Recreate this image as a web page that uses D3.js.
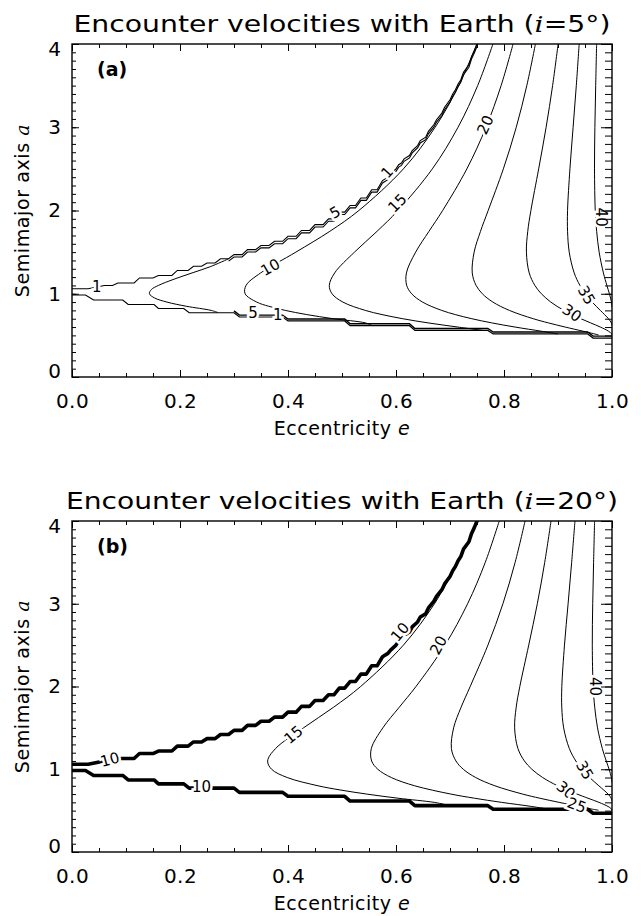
<!DOCTYPE html>
<html>
<head>
<meta charset="utf-8">
<script src="https://cdn.jsdelivr.net/npm/d3@7"></script>
<style>
  body { margin: 0; background: #fff; }
  svg text { font-family: "DejaVu Sans", "Liberation Sans", sans-serif; fill: #000; }
</style>
</head>
<body>
<svg id="chart" width="641" height="916"></svg>
<script>
// ---- axis ticks ----
const eTicks = [0, 0.2, 0.4, 0.6, 0.8, 1.0];
const eTickLabels = ["0.0", "0.2", "0.4", "0.6", "0.8", "1.0"];
const aTicks = [0, 1, 2, 3, 4];
const aTickLabels = ["0", "1", "2", "3", "4"];

// ---- edges of the crossing region (stair-stepped, as gridded) [e, a] ----
const upperEdge = [[0,1.06],[0.03,1.06],[0.06,1.10],[0.075,1.10],[0.085,1.13],[0.115,1.13],[0.125,1.19],[0.15,1.19],
  [0.16,1.22],[0.185,1.22],[0.195,1.28],[0.215,1.28],[0.225,1.33],[0.24,1.33],[0.25,1.37],[0.265,1.37],[0.275,1.42],
  [0.29,1.42],[0.30,1.47],[0.315,1.47],[0.325,1.53],[0.34,1.53],[0.35,1.58],[0.365,1.58],[0.375,1.63],[0.39,1.63],
  [0.40,1.69],[0.415,1.69],[0.425,1.76],[0.44,1.76],[0.45,1.83],[0.465,1.83],[0.475,1.90],[0.485,1.90],[0.495,1.98],
  [0.505,1.98],[0.515,2.06],[0.525,2.06],[0.535,2.15],[0.545,2.15],[0.555,2.25],[0.565,2.25],[0.575,2.36],[0.585,2.40],
  [0.59,2.44],[0.6,2.50],[0.605,2.55],[0.61,2.57],[0.615,2.62],[0.625,2.66],[0.63,2.72],[0.64,2.78],[0.645,2.84],
  [0.655,2.88],[0.66,2.95],[0.67,3.03],[0.675,3.09],[0.685,3.17],[0.69,3.24],[0.70,3.33],[0.705,3.40],[0.71,3.45],
  [0.715,3.52],[0.72,3.57],[0.725,3.66],[0.735,3.75],[0.74,3.85],[0.745,3.92],[0.75,4.0],[0.752,4.1]];
const lowerEdge = [[0,0.985],[0.025,0.985],[0.04,0.925],[0.094,0.925],[0.104,0.871],[0.152,0.871],[0.16,0.823],
  [0.207,0.823],[0.217,0.772],[0.30,0.772],[0.31,0.721],[0.39,0.721],[0.40,0.673],[0.505,0.673],[0.515,0.616],
  [0.625,0.616],[0.635,0.56],[0.77,0.56],[0.78,0.517],[0.955,0.517],[0.965,0.468],[1.01,0.468]];

// ---- contours, i = 5 deg  [e, a] ----
const c5_05 = [[0.27,0.775],[0.2578,0.8],[0.2115,0.85],[0.1758,0.9],[0.1527,0.95],[0.1434,1.0],[0.1469,1.05],[0.16,1.1],[0.189,1.175],[0.2223,1.25],[0.256,1.325],[0.29,1.42]];
const c5_10 = [[0.555,0.62],[0.5431,0.65],[0.484,0.7],[0.4347,0.75],[0.3949,0.8],[0.3642,0.85],[0.342,0.9],[0.3206,1.0],[0.3223,1.1],[0.3493,1.25],[0.4146,1.5],[0.4775,1.75],[0.5312,2.0],[0.6137,2.5],[0.6725,3.0],[0.7162,3.5],[0.7497,4.0]];
const c5_15 = [[0.76,0.56],[0.7146,0.6],[0.6593,0.65],[0.6125,0.7],[0.574,0.75],[0.5431,0.8],[0.5016,0.9],[0.4815,1.0],[0.4765,1.1],[0.4864,1.25],[0.5231,1.5],[0.5649,1.75],[0.6037,2.0],[0.6673,2.5],[0.7149,3.0],[0.7512,3.5],[0.7795,4.0]];
const c5_20 = [[0.90,0.517],[0.8691,0.55],[0.8205,0.6],[0.7773,0.65],[0.7405,0.7],[0.7097,0.75],[0.6846,0.8],[0.6491,0.9],[0.629,1.0],[0.6198,1.1],[0.6193,1.25],[0.6364,1.5],[0.6611,1.75],[0.6864,2.0],[0.7312,2.5],[0.7667,3.0],[0.7946,3.5],[0.8168,4.0]];
const c5_25 = [[0.975,0.505],[0.9659,0.52],[0.9464,0.55],[0.9133,0.6],[0.8821,0.65],[0.8542,0.7],[0.8099,0.8],[0.7794,0.9],[0.7599,1.0],[0.7483,1.1],[0.7412,1.25],[0.7447,1.5],[0.7565,1.75],[0.7707,2.0],[0.7988,2.5],[0.8227,3.0],[0.8422,3.5],[0.8582,4.0]];
const c5_30 = [[1.0,0.504],[0.9991,0.52],[0.9936,0.55],[0.9785,0.6],[0.9604,0.65],[0.9426,0.7],[0.9109,0.8],[0.8867,0.9],[0.8692,1.0],[0.8572,1.1],[0.8467,1.25],[0.8415,1.5],[0.844,1.75],[0.8498,2.0],[0.8642,2.5],[0.878,3.0],[0.89,3.5],[0.9002,4.0]];
const c5_35 = [[1.0,0.618],[0.9988,0.65],[0.9935,0.7],[0.9784,0.8],[0.9633,0.9],[0.9506,1.0],[0.9406,1.1],[0.93,1.25],[0.9208,1.5],[0.9177,1.75],[0.9177,2.0],[0.9221,2.5],[0.928,3.0],[0.9339,3.5],[0.9392,4.0]];
const c5_40 = [[1.0,0.836],[0.999,0.9],[0.9952,1.0],[0.9905,1.1],[0.9841,1.25],[0.9762,1.5],[0.9716,1.75],[0.969,2.0],[0.9676,2.5],[0.9683,3.0],[0.9698,3.5],[0.9715,4.0]];

// ---- contours, i = 20 deg ----
const c20_15 = [[0.69,0.575],[0.6708,0.6],[0.6038,0.65],[0.5457,0.7],[0.4964,0.75],[0.4557,0.8],[0.3986,0.9],[0.3696,1.0],[0.3623,1.1],[0.3769,1.25],[0.4286,1.5],[0.4845,1.75],[0.5345,2.0],[0.6137,2.5],[0.6712,3.0],[0.7143,3.5]];
const c20_20 = [[0.88,0.52],[0.8515,0.55],[0.7954,0.6],[0.7452,0.65],[0.7016,0.7],[0.6347,0.8],[0.5913,0.9],[0.5663,1.0],[0.5549,1.1],[0.5543,1.25],[0.5756,1.5],[0.6061,1.75],[0.637,2.0],[0.6907,2.5],[0.7326,3.0],[0.7653,3.5],[0.7912,4.0]];
const c20_25 = [[0.975,0.505],[0.9616,0.52],[0.9396,0.55],[0.902,0.6],[0.8663,0.65],[0.8344,0.7],[0.7832,0.8],[0.7476,0.9],[0.7246,1.0],[0.711,1.1],[0.7026,1.25],[0.7067,1.5],[0.7206,1.75],[0.7374,2.0],[0.7702,2.5],[0.798,3.0],[0.8206,3.5],[0.839,4.0]];
const c20_30 = [[1.0,0.504],[0.999,0.52],[0.9928,0.55],[0.9758,0.6],[0.9555,0.65],[0.9353,0.7],[0.8993,0.8],[0.8716,0.9],[0.8516,1.0],[0.8378,1.1],[0.8258,1.25],[0.8197,1.5],[0.8226,1.75],[0.8293,2.0],[0.8458,2.5],[0.8617,3.0],[0.8754,3.5],[0.8871,4.0]];
const c20_35 = [[1.0,0.618],[0.9986,0.65],[0.9927,0.7],[0.9757,0.8],[0.9586,0.9],[0.9443,1.0],[0.933,1.1],[0.921,1.25],[0.9105,1.5],[0.907,1.75],[0.9071,2.0],[0.912,2.5],[0.9187,3.0],[0.9253,3.5],[0.9314,4.0]];
const c20_40 = [[1.0,0.836],[0.9989,0.9],[0.9946,1.0],[0.9894,1.1],[0.9821,1.25],[0.9732,1.5],[0.968,1.75],[0.9651,2.0],[0.9635,2.5],[0.9643,3.0],[0.9659,3.5],[0.9678,4.0]];

// ---- contour labels: [text, e, a, angle] ----
const labels5 = [["1",0.046,1.08,0],["5",0.487,1.98,-30],["1",0.583,2.46,-48],["10",0.367,1.32,-30],
  ["15",0.602,2.09,-45],["20",0.765,3.03,-65],["5",0.335,0.77,0],["1",0.381,0.745,0],
  ["30",0.926,0.77,35],["35",0.953,0.985,60],["40",0.981,1.92,90]];
const labels20 = [["10",0.07,1.12,-15],["10",0.24,0.79,0],["10",0.607,2.66,-50],["15",0.41,1.42,-40],
  ["20",0.678,2.5,-62],["40",0.969,2.0,90],["35",0.95,0.99,60],["30",0.915,0.75,40],["25",0.935,0.57,20]];

const svg = d3.select("#chart");
const x = d3.scaleLinear().domain([0, 1]).range([72, 612]);

const panels = [
  { id: "a", top: 44, bottom: 377, inc: "5", tag: "(a)", titleLen: 537,
    contours: [c5_05, c5_10, c5_15, c5_20, c5_25, c5_30, c5_35, c5_40], labels: labels5, thickEdge: false },
  { id: "b", top: 521, bottom: 852, inc: "20", tag: "(b)", titleLen: 552,
    contours: [c20_15, c20_20, c20_25, c20_30, c20_35, c20_40], labels: labels20, thickEdge: true }
];

panels.forEach(p => drawPanel(p));

function drawPanel(p) {
  const y = d3.scaleLinear().domain([0, 4]).range([p.bottom, p.top]);
  const g = svg.append("g");

  svg.append("clipPath").attr("id", "clip-" + p.id)
    .append("rect")
    .attr("x", x(0)).attr("y", y(4))
    .attr("width", x(1) - x(0)).attr("height", y(0) - y(4));

  const plot = g.append("g").attr("clip-path", `url(#clip-${p.id})`);
  const straight = d3.line().x(d => x(d[0])).y(d => y(d[1]));
  const smooth = d3.line().x(d => x(d[0])).y(d => y(d[1])).curve(d3.curveCatmullRom.alpha(0.5));

  // smooth contours
  plot.selectAll("path.contour").data(p.contours).join("path")
    .attr("class", "contour")
    .attr("d", smooth)
    .attr("fill", "none").attr("stroke", "#000").attr("stroke-width", 1);

  // edge contours (1, 5, 10 bunched at the region boundary)
  if (p.thickEdge) {
    [upperEdge, lowerEdge].forEach(edge => {
      plot.append("path").attr("d", straight(edge))
        .attr("fill", "none").attr("stroke", "#000").attr("stroke-width", 3.6)
        .attr("stroke-linejoin", "round");
    });
  } else {
    plot.append("path").attr("d", straight(upperEdge))
      .attr("fill", "none").attr("stroke", "#000").attr("stroke-width", 1.1);
    plot.append("path").attr("d", straight(upperEdge.filter(d => d[0] >= 0.29)))
      .attr("transform", "translate(0,2.4)")
      .attr("fill", "none").attr("stroke", "#000").attr("stroke-width", 1.1);
    plot.append("path").attr("d", straight(lowerEdge))
      .attr("fill", "none").attr("stroke", "#000").attr("stroke-width", 1.2);
    plot.append("path").attr("d", straight(lowerEdge.filter(d => d[0] >= 0.27)))
      .attr("transform", "translate(0,-1.9)")
      .attr("fill", "none").attr("stroke", "#000").attr("stroke-width", 1.4);
  }

  // contour labels with a white halo to break the line
  plot.selectAll("text.clabel").data(p.labels).join("text")
    .attr("class", "clabel")
    .attr("transform", d => `translate(${x(d[1])},${y(d[2])}) rotate(${d[3]})`)
    .attr("text-anchor", "middle").attr("dy", "0.36em")
    .attr("font-size", 15)
    .attr("stroke", "#fff").attr("stroke-width", 5).attr("paint-order", "stroke")
    .text(d => d[0]);

  // axes
  const clean = sel => {
    sel.select(".domain").remove();
    sel.attr("font-family", null).attr("font-size", null);
    sel.selectAll("line").attr("stroke", "#000").attr("stroke-width", 1);
  };
  const eMinor = d3.range(0, 1.0001, 0.05);
  const aMinor = d3.range(0, 4.0001, 0.1);

  g.append("g").attr("transform", `translate(0,${y(0)})`)
    .call(d3.axisBottom(x).tickValues(eMinor).tickSize(-4).tickFormat("")).call(clean);
  g.append("g").attr("transform", `translate(0,${y(0)})`)
    .call(d3.axisBottom(x).tickValues(eTicks).tickSize(-7).tickPadding(17)
      .tickFormat((d, i) => eTickLabels[i])).call(clean)
    .selectAll("text").attr("font-size", 20).attr("letter-spacing", 0.4);
  g.append("g").attr("transform", `translate(0,${y(4)})`)
    .call(d3.axisTop(x).tickValues(eMinor).tickSize(-4).tickFormat("")).call(clean);
  g.append("g").attr("transform", `translate(0,${y(4)})`)
    .call(d3.axisTop(x).tickValues(eTicks).tickSize(-7).tickFormat("")).call(clean);

  g.append("g").attr("transform", `translate(${x(0)},0)`)
    .call(d3.axisLeft(y).tickValues(aMinor).tickSize(-4).tickFormat("")).call(clean);
  const yl = g.append("g").attr("transform", `translate(${x(0)},0)`)
    .call(d3.axisLeft(y).tickValues(aTicks).tickSize(-7).tickPadding(11)
      .tickFormat((d, i) => aTickLabels[i])).call(clean);
  yl.selectAll("text").attr("font-size", 20)
    .attr("y", d => d === 4 ? 5 : d === 0 ? -6 : 0);
  g.append("g").attr("transform", `translate(${x(1)},0)`)
    .call(d3.axisRight(y).tickValues(aMinor).tickSize(-7).tickFormat("")).call(clean);
  g.append("g").attr("transform", `translate(${x(1)},0)`)
    .call(d3.axisRight(y).tickValues(aTicks).tickSize(-11).tickFormat("")).call(clean);

  // frame
  g.append("rect")
    .attr("x", x(0)).attr("y", y(4))
    .attr("width", x(1) - x(0)).attr("height", y(0) - y(4))
    .attr("fill", "none").attr("stroke", "#000").attr("stroke-width", 1.4);

  // panel tag
  g.append("text").attr("x", 97).attr("y", y(4) + 32)
    .attr("font-family", "Liberation Sans, Arial, sans-serif")
    .attr("font-weight", "bold").attr("font-size", 19)
    .text(p.tag);

  // title
  const t = g.append("text")
    .attr("x", (x(0) + x(1)) / 2).attr("y", y(4) - 12)
    .attr("text-anchor", "middle").attr("font-size", 23)
    .attr("textLength", p.titleLen).attr("lengthAdjust", "spacingAndGlyphs");
  t.append("tspan").text("Encounter velocities with Earth (");
  t.append("tspan").attr("font-style", "italic").attr("font-family", "DejaVu Serif, serif").text("i");
  t.append("tspan").text("=" + p.inc + "°)");

  // axis titles
  const xl = g.append("text")
    .attr("x", (x(0) + x(1)) / 2).attr("y", y(0) + 58)
    .attr("text-anchor", "middle").attr("font-size", 19)
    .attr("letter-spacing", 0.5);
  xl.append("tspan").text("Eccentricity ");
  xl.append("tspan").attr("font-style", "italic").text("e");

  const ylab = g.append("text")
    .attr("transform", `translate(29,${(y(0) + y(4)) / 2}) rotate(-90)`)
    .attr("text-anchor", "middle").attr("font-size", 19)
    .attr("letter-spacing", 0.6);
  ylab.append("tspan").text("Semimajor axis ");
  ylab.append("tspan").attr("font-style", "italic").attr("font-family", "DejaVu Serif, serif").text("a");
}
</script>
</body>
</html>
